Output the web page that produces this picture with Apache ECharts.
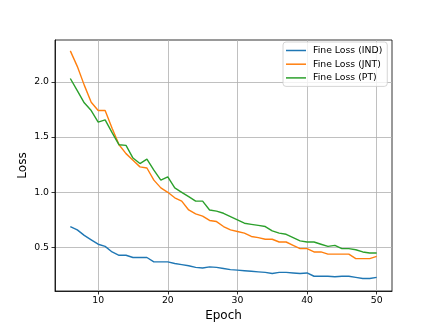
<!DOCTYPE html>
<html><head><meta charset="utf-8">
<script src="https://cdn.jsdelivr.net/npm/echarts@6/dist/echarts.min.js"></script>
<style>html,body{margin:0;padding:0;background:#fff}#c{width:436px;height:326px}</style>
</head><body><div id="c"></div>
<script>
const epochs = [6,7,8,9,10,11,12,13,14,15,16,17,18,19,20,21,22,23,24,25,26,27,28,29,30,31,32,33,34,35,36,37,38,39,40,41,42,43,44,45,46,47,48,49,50];
const lossIND = [0.69,0.66,0.61,0.57,0.53,0.51,0.46,0.43,0.43,0.41,0.41,0.41,0.37,0.37,0.37,0.355,0.345,0.335,0.32,0.315,0.325,0.32,0.31,0.30,0.295,0.29,0.285,0.28,0.275,0.265,0.275,0.275,0.27,0.265,0.27,0.24,0.24,0.24,0.235,0.24,0.24,0.23,0.22,0.22,0.23];
const lossJNT = [2.28,2.14,1.97,1.815,1.74,1.74,1.58,1.43,1.35,1.29,1.23,1.22,1.11,1.04,1.00,0.95,0.92,0.84,0.805,0.785,0.745,0.735,0.69,0.66,0.645,0.63,0.60,0.59,0.575,0.575,0.55,0.55,0.52,0.49,0.49,0.46,0.46,0.44,0.44,0.44,0.44,0.40,0.40,0.40,0.42];
const lossPT = [2.03,1.92,1.81,1.74,1.635,1.655,1.54,1.43,1.425,1.31,1.26,1.30,1.20,1.11,1.14,1.04,1.00,0.96,0.92,0.92,0.84,0.83,0.81,0.78,0.75,0.72,0.71,0.70,0.69,0.65,0.63,0.62,0.59,0.56,0.55,0.55,0.53,0.51,0.52,0.49,0.49,0.48,0.46,0.45,0.45];
const seriesNames = ['Fine Loss (IND)','Fine Loss (JNT)','Fine Loss (PT)'];
const colors = ['#1f77b4','#ff7f0e','#2ca02c'];
const xTicks = [10,20,30,40,50];
const yTicks = [0.5,1.0,1.5,2.0];

const font = 'DejaVu Sans';
const chart = echarts.init(document.getElementById('c'), null, {renderer:'canvas'});
const pair = (xs, ys) => xs.map((x,i)=>[x, ys[i]]);
const mkSeries = (name, data, color) => ({
  name, type:'line', data: pair(epochs, data), showSymbol:false, symbol:'none',
  lineStyle:{color, width:1.4}, itemStyle:{color}, animation:false, z:3
});
chart.setOption({
  animation:false,
  grid:{left:55, right:44, top:40, bottom:35, show:true, borderColor:'#000', borderWidth:0.8, outerBoundsMode:'none', containLabel:false},
  legend:{
    orient:'vertical', left:283, top:42, padding:[3,5,3,3], itemGap:2.7,
    itemWidth:20, itemHeight:1.5, icon:'rect',
    backgroundColor:'rgba(255,255,255,0.8)', borderColor:'#cccccc', borderWidth:0.8, borderRadius:3,
    textStyle:{fontFamily:font, fontSize:9.3, color:'#000', lineHeight:11, padding:[0,0,0,2]},
    data: seriesNames
  },
  xAxis:{
    type:'value', min:3.8, max:52.2,
    name:'Epoch', nameLocation:'middle', nameGap:19, nameMoveOverlap:false,
    nameTextStyle:{fontFamily:font, fontSize:12, color:'#000'},
    axisLine:{show:true, onZero:false, lineStyle:{color:'#000', width:0.8}},
    axisTick:{show:true, length:3.5, lineStyle:{color:'#000', width:0.8}, customValues:xTicks},
    axisLabel:{fontFamily:font, fontSize:9.3, color:'#000', margin:5, customValues:xTicks, formatter:v=>String(v)},
    splitLine:{show:true, lineStyle:{color:'#b0b0b0', width:0.8}}
  },
  yAxis:{
    type:'value', min:0.1065, max:2.3785,
    name:'Loss', nameLocation:'middle', nameGap:26, nameRotate:90, nameMoveOverlap:false,
    nameTextStyle:{fontFamily:font, fontSize:12, color:'#000'},
    axisLine:{show:true, onZero:false, lineStyle:{color:'#000', width:0.8}},
    axisTick:{show:true, length:3.5, lineStyle:{color:'#000', width:0.8}, customValues:yTicks},
    axisLabel:{fontFamily:font, fontSize:9.3, color:'#000', margin:6, customValues:yTicks, formatter:v=>v.toFixed(1)},
    splitLine:{show:true, lineStyle:{color:'#b0b0b0', width:0.8}}
  },
  series:[
    mkSeries(seriesNames[0], lossIND, colors[0]),
    mkSeries(seriesNames[1], lossJNT, colors[1]),
    mkSeries(seriesNames[2], lossPT, colors[2])
  ]
});
</script></body></html>
